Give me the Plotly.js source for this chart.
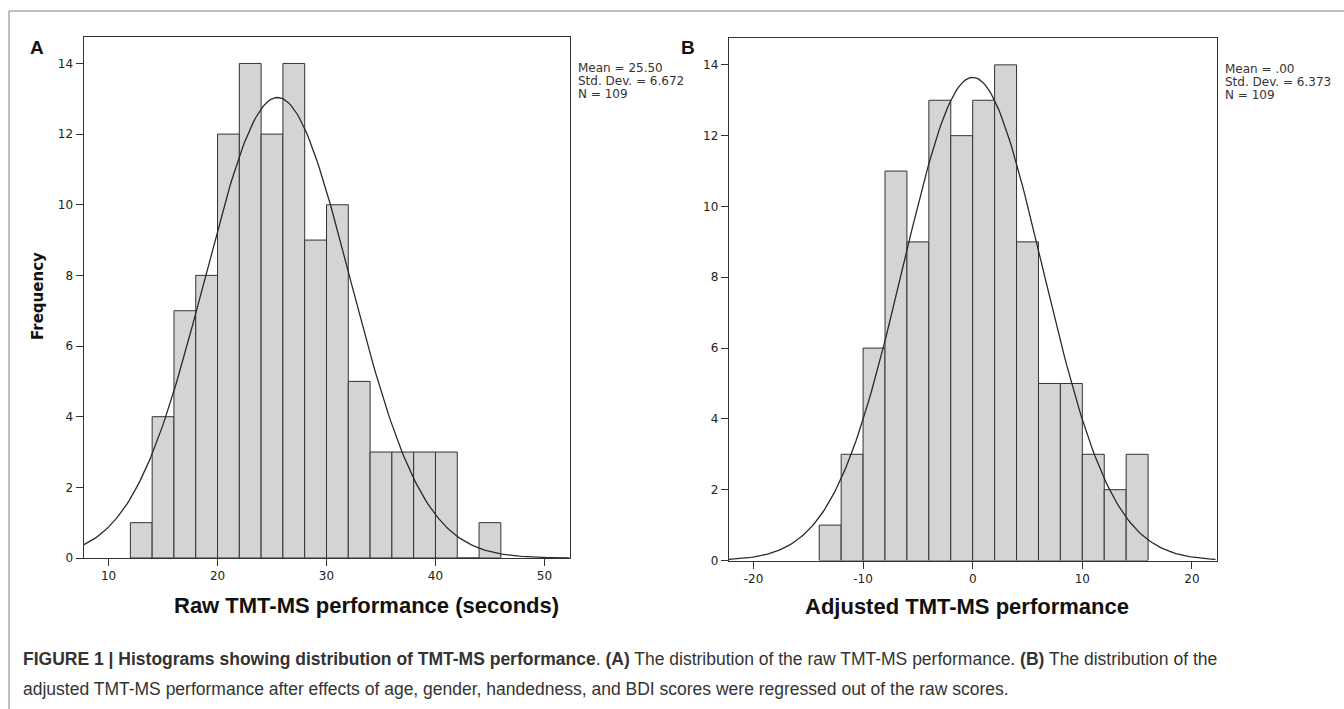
<!DOCTYPE html>
<html><head><meta charset="utf-8">
<script src="https://cdn.plot.ly/plotly-3.0.1.min.js"></script>
<style>html,body{margin:0;padding:0;background:#fff;} #chart{width:1344px;height:709px;}</style>
</head><body><div id="chart"></div>
<script>
// ---- data ----
const binWidth = 2;
const rawBinStarts = [12,14,16,18,20,22,24,26,28,30,32,34,36,38,40,42,44];
const rawCounts    = [1,4,7,8,12,14,12,14,9,10,5,3,3,3,3,0,1];
const rawMean = 25.50, rawSD = 6.672, rawN = 109;

const adjBinStarts = [-14,-12,-10,-8,-6,-4,-2,0,2,4,6,8,10,12,14];
const adjCounts    = [1,3,6,11,9,13,12,13,14,9,5,5,3,2,3];
const adjMean = 0.00, adjSD = 6.373, adjN = 109;

const rawTickVals = [10,20,30,40,50];
const adjTickVals = [-20,-10,0,10,20];
const adjTickText = ['-20','-10','0','10','20'];
const freqTickVals = [0,2,4,6,8,10,12,14];
const freqTickText = ['0','2','4','6','8','10','12','14'];

const statsA = ['Mean = 25.50','Std. Dev. = 6.672','N = 109'];
const statsB = ['Mean = .00','Std. Dev. = 6.373','N = 109'];

const xTitleA = 'Raw TMT-MS performance (seconds)';
const xTitleB = 'Adjusted TMT-MS performance';
const yTitleA = 'Frequency';
const captionLine1 = '<b>FIGURE 1 | Histograms showing distribution of TMT-MS performance</b>. <b>(A)</b> The distribution of the raw TMT-MS performance. <b>(B)</b> The distribution of the';
const captionLine2 = 'adjusted TMT-MS performance after effects of age, gender, handedness, and BDI scores were regressed out of the raw scores.';

// ---- layout helpers ----
const W = 1344, H = 709;
const px = v => v / W;
const py = v => 1 - v / H;

const rangeA = [7.7, 52.3];
const rangeB = [-22.25, 22.25];

// fitted normal curve defined by the reported mean / SD / N
function normalCurve(mean, sd, n, range) {
  const xs = [], ys = [];
  const k = n * binWidth / (sd * Math.sqrt(2 * Math.PI));
  for (let x = range[0]; x <= range[1] + 1e-9; x += 0.2) {
    xs.push(x);
    ys.push(k * Math.exp(-0.5 * Math.pow((x - mean) / sd, 2)));
  }
  return {xs, ys};
}
const curveA = normalCurve(rawMean, rawSD, rawN, rangeA);
const curveB = normalCurve(adjMean, adjSD, adjN, rangeB);

const barStyle = {color: '#d4d4d4', line: {color: '#333', width: 1}};
const traces = [
  {type: 'bar', x: rawBinStarts, y: rawCounts, width: binWidth, offset: 0,
   marker: barStyle, xaxis: 'x', yaxis: 'y', hoverinfo: 'skip'},
  {type: 'scatter', mode: 'lines', x: curveA.xs, y: curveA.ys,
   line: {color: '#2a2a2a', width: 1.3}, xaxis: 'x', yaxis: 'y', hoverinfo: 'skip'},
  {type: 'bar', x: adjBinStarts, y: adjCounts, width: binWidth, offset: 0,
   marker: barStyle, xaxis: 'x2', yaxis: 'y2', hoverinfo: 'skip'},
  {type: 'scatter', mode: 'lines', x: curveB.xs, y: curveB.ys,
   line: {color: '#2a2a2a', width: 1.3}, xaxis: 'x2', yaxis: 'y2', hoverinfo: 'skip'}
];

const tickFont = {family: 'DejaVu Sans, sans-serif', size: 12, color: '#222'};
const axisCommon = {
  showline: true, mirror: true, linecolor: '#333', linewidth: 1,
  ticks: 'outside', ticklen: 7, tickwidth: 1, tickcolor: '#333',
  showgrid: false, zeroline: false, tickfont: tickFont, fixedrange: true
};

const annotations = [];
function addStats(lines, x, y0) {
  lines.forEach((t, i) => annotations.push({
    text: t, xref: 'paper', yref: 'paper', x: px(x), y: py(y0 + i * 13),
    xanchor: 'left', yanchor: 'middle', showarrow: false,
    font: {family: 'DejaVu Sans, sans-serif', size: 12, color: '#333'}
  }));
}
addStats(statsA, 576, 68);
addStats(statsB, 1223, 69);

const titleFont = {family: 'Liberation Sans, Arial, sans-serif', size: 22, color: '#111'};
annotations.push({text: '<b>' + xTitleA + '</b>', xref: 'paper', yref: 'paper',
  x: px(367), y: py(605), xanchor: 'center', yanchor: 'middle', showarrow: false, font: titleFont});
annotations.push({text: '<b>' + xTitleB + '</b>', xref: 'paper', yref: 'paper',
  x: px(967), y: py(606), xanchor: 'center', yanchor: 'middle', showarrow: false, font: titleFont});
annotations.push({text: '<b>' + yTitleA + '</b>', xref: 'paper', yref: 'paper', textangle: -90,
  x: px(38), y: py(296), xanchor: 'center', yanchor: 'middle', showarrow: false,
  font: {family: 'DejaVu Sans, sans-serif', size: 15, color: '#111'}});
const panelFont = {family: 'Liberation Sans, Arial, sans-serif', size: 19, color: '#111'};
annotations.push({text: '<b>A</b>', xref: 'paper', yref: 'paper', x: px(37), y: py(47),
  xanchor: 'center', yanchor: 'middle', showarrow: false, font: panelFont});
annotations.push({text: '<b>B</b>', xref: 'paper', yref: 'paper', x: px(688), y: py(47),
  xanchor: 'center', yanchor: 'middle', showarrow: false, font: panelFont});
const capFont = {family: 'Liberation Sans, Arial, sans-serif', size: 17.5, color: '#333'};
annotations.push({text: captionLine1, xref: 'paper', yref: 'paper', x: px(21), y: py(659),
  xanchor: 'left', yanchor: 'middle', showarrow: false, font: capFont});
annotations.push({text: captionLine2, xref: 'paper', yref: 'paper', x: px(21), y: py(689),
  xanchor: 'left', yanchor: 'middle', showarrow: false, font: capFont});

const layout = {
  width: W, height: H, autosize: false,
  margin: {l: 0, r: 0, t: 0, b: 0},
  paper_bgcolor: '#fff', plot_bgcolor: '#fff',
  showlegend: false,
  xaxis: Object.assign({}, axisCommon, {domain: [px(83.5), px(569.5)], range: rangeA, anchor: 'y',
    tickvals: rawTickVals}),
  yaxis: Object.assign({}, axisCommon, {domain: [py(558), py(37.3)], range: [0, 14.74], anchor: 'x',
    tickvals: freqTickVals, ticktext: freqTickText}),
  xaxis2: Object.assign({}, axisCommon, {domain: [px(728.8), px(1216.6)], range: rangeB, anchor: 'y2',
    tickvals: adjTickVals, ticktext: adjTickText}),
  yaxis2: Object.assign({}, axisCommon, {domain: [py(560.5), py(38.3)], range: [0, 14.75], anchor: 'x2',
    tickvals: freqTickVals, ticktext: freqTickText}),
  annotations: annotations,
  shapes: [
    {type: 'line', xref: 'paper', yref: 'paper', x0: px(9), x1: px(1344), y0: py(11), y1: py(11),
     line: {color: '#a8a8a8', width: 1.5}},
    {type: 'line', xref: 'paper', yref: 'paper', x0: px(9), x1: px(9), y0: py(11), y1: py(709),
     line: {color: '#a8a8a8', width: 1.5}}
  ]
};

Plotly.newPlot('chart', traces, layout, {staticPlot: true, displayModeBar: false});
</script>
</body></html>
